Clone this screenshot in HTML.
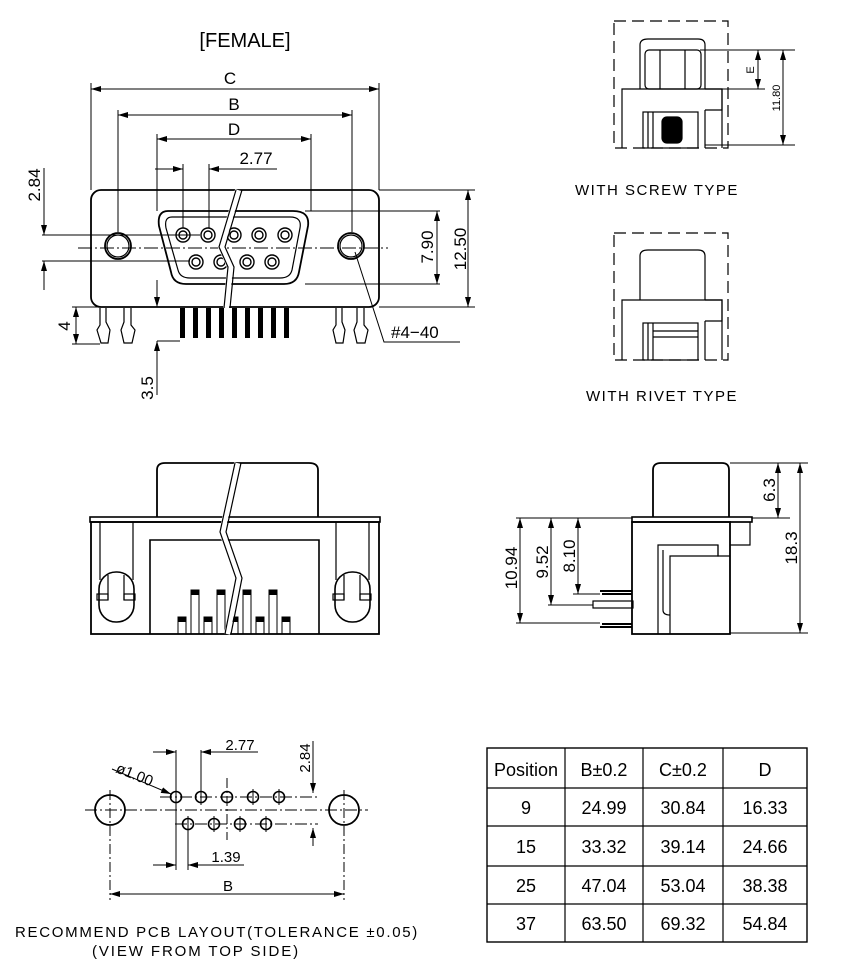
<!DOCTYPE html>
<html><head><meta charset="utf-8"><style>
html,body{margin:0;padding:0;background:#fff;}
svg{display:block;}
text{font-family:"Liberation Sans",sans-serif;fill:#000;}
</style></head><body>
<svg width="841" height="977" viewBox="0 0 841 977" xmlns="http://www.w3.org/2000/svg">
<defs>
<marker id="a" viewBox="0 0 10 6" refX="10" refY="3" markerWidth="10" markerHeight="6" orient="auto-start-reverse" markerUnits="userSpaceOnUse"><path d="M0,0 L10,3 L0,6z" fill="#000"/></marker>
</defs>
<g fill="none" stroke="#000" stroke-width="1.2">
<text x="245" y="47" font-size="20" text-anchor="middle" stroke="none" font-weight="300">[FEMALE]</text>
<rect x="91" y="190" width="288" height="117" rx="10" stroke-width="1.8"/>
<circle cx="118" cy="246" r="13" stroke-width="1.8"/><circle cx="118" cy="246" r="11"/>
<circle cx="351" cy="246" r="13" stroke-width="1.8"/><circle cx="351" cy="246" r="11"/>
<path d="M168,211 L293,211 Q310,211 308,226 L299,272 Q297,284 284,284 L186,284 Q173,284 171,272 L159,226 Q157,211 168,211z" stroke-width="1.8"/>
<path d="M172,217 L290,217 Q302,217 300,228 L292,270 Q290,278 280,278 L190,278 Q180,278 178,270 L166,228 Q164,217 172,217z"/>
<g stroke-width="1.4">
<circle cx="183" cy="235" r="7"/><circle cx="183" cy="235" r="4"/>
<circle cx="208" cy="235" r="7"/><circle cx="208" cy="235" r="4"/>
<circle cx="234" cy="235" r="7"/><circle cx="234" cy="235" r="4"/>
<circle cx="259" cy="235" r="7"/><circle cx="259" cy="235" r="4"/>
<circle cx="285" cy="235" r="7"/><circle cx="285" cy="235" r="4"/>
<circle cx="196" cy="262" r="7"/><circle cx="196" cy="262" r="4"/>
<circle cx="221" cy="262" r="7"/><circle cx="221" cy="262" r="4"/>
<circle cx="247" cy="262" r="7"/><circle cx="247" cy="262" r="4"/>
<circle cx="272" cy="262" r="7"/><circle cx="272" cy="262" r="4"/>
</g>
<path d="M78,248 H388" stroke-dasharray="14,3,2,3" stroke-width="0.9"/>
<path d="M238,190 L221,247 L230,267 L226,308" stroke="#fff" stroke-width="6"/>
<path d="M236,190 L219,247 L228,267 L224,308 M242,190 L225,247 L234,267 L230,308" stroke-width="1.2"/>
<g fill="#000" stroke="none">
<rect x="180" y="308" width="5" height="30"/><rect x="193" y="308" width="5" height="30"/><rect x="206" y="308" width="5" height="30"/><rect x="219" y="308" width="5" height="30"/><rect x="232" y="308" width="5" height="30"/><rect x="245" y="308" width="5" height="30"/><rect x="258" y="308" width="5" height="30"/><rect x="271" y="308" width="5" height="30"/><rect x="284" y="308" width="5" height="30"/>
</g>
<path d="M100,308 V325 L97,330 L101,343 H108 L110,330 L106,322 V308"/>
<path d="M124,308 V322 L121,330 L124,343 H132 L135,330 L131,325 V308"/>
<path d="M336,308 V325 L333,330 L336,343 H343 L345,330 L342,322 V308"/>
<path d="M357,308 V322 L354,330 L357,343 H365 L368,330 L364,325 V308"/>
<g stroke-width="1">
<path d="M91,190 V83 M379,190 V83 M118,232 V110 M352,232 V110 M157,211 V134 M311,211 V134 M183,228 V164 M209,228 V164"/>
<path d="M91,89 H379" marker-start="url(#a)" marker-end="url(#a)"/>
<path d="M118,115 H352" marker-start="url(#a)" marker-end="url(#a)"/>
<path d="M157,139 H311" marker-start="url(#a)" marker-end="url(#a)"/>
<path d="M155,169 H183" marker-end="url(#a)"/>
<path d="M277,169 H209" marker-end="url(#a)"/>
<path d="M42,235 H200 M42,261 H190"/>
<path d="M44,168 V235" marker-end="url(#a)"/>
<path d="M44,290 V261" marker-end="url(#a)"/>
<path d="M305,211 H440 M305,284 H440 M379,190 H475 M379,307 H475"/>
<path d="M437,211 V284" marker-start="url(#a)" marker-end="url(#a)"/>
<path d="M468,190 V307" marker-start="url(#a)" marker-end="url(#a)"/>
<path d="M72,307 H100 M72,344 H100"/>
<path d="M76,307 V344" marker-start="url(#a)" marker-end="url(#a)"/>
<path d="M157,280 V307" marker-end="url(#a)"/>
<path d="M157,341 H180"/>
<path d="M157,395 V341" marker-end="url(#a)"/>
<path d="M355,252 L384,342 H460"/>
</g>
<g stroke="none" font-size="17">
<text x="230" y="84" text-anchor="middle">C</text>
<text x="234" y="110" text-anchor="middle">B</text>
<text x="234" y="135" text-anchor="middle">D</text>
<text x="256" y="164" text-anchor="middle">2.77</text>
<text transform="translate(40,185) rotate(-90)" text-anchor="middle">2.84</text>
<text transform="translate(433,247) rotate(-90)" text-anchor="middle">7.90</text>
<text transform="translate(466,249) rotate(-90)" text-anchor="middle">12.50</text>
<text transform="translate(70,326) rotate(-90)" text-anchor="middle">4</text>
<text transform="translate(153,388) rotate(-90)" text-anchor="middle">3.5</text>
<text x="391" y="338">#4−40</text>
</g>

<rect x="614" y="21" width="114" height="127" stroke-dasharray="12,6"/>
<path d="M622,148 V89 H722 V148"/>
<path d="M640,89 V45 Q640,39 648,39 H698 Q705,39 705,45 V89"/>
<rect x="645" y="50" width="56" height="39" rx="4"/>
<path d="M660,50 V89 M685,50 V89"/>
<path d="M705,89 H722 V110 H705 M705,110 V148"/>
<rect x="643" y="112" width="55" height="36"/>
<path d="M648,112 V148 M653,112 V148"/>
<rect x="662" y="117" width="20" height="26" rx="5" fill="#000"/>
<g stroke-width="1"><path d="M700,50 H795 M650,89 H765 M705,145 H795"/>
<path d="M758,50 V89" marker-start="url(#a)" marker-end="url(#a)"/>
<path d="M783,50 V145" marker-start="url(#a)" marker-end="url(#a)"/></g>
<text transform="translate(754,70) rotate(-90)" font-size="11" text-anchor="middle" stroke="none">E</text>
<text transform="translate(780,98) rotate(-90)" font-size="11" text-anchor="middle" stroke="none">11.80</text>
<text x="575" y="195" font-size="15" stroke="none" letter-spacing="1.5">WITH  SCREW  TYPE</text>

<rect x="614" y="233" width="114" height="127" stroke-dasharray="12,6"/>
<path d="M622,360 V300 H722 V360"/>
<path d="M640,300 V256 Q640,250 648,250 H698 Q705,250 705,256 V300"/>
<path d="M705,300 H722 V321 H705 M705,321 V360"/>
<rect x="643" y="323" width="55" height="37"/>
<path d="M648,323 V360 M653,323 V360 M653,331 H698 M653,337 H698"/>
<text x="586" y="401" font-size="15" stroke="none" letter-spacing="1.5">WITH  RIVET  TYPE</text>

<path d="M157,517 V470 Q157,463 165,463 H309 Q318,463 318,470 V517" stroke-width="1.8"/>
<rect x="90" y="517" width="290" height="5" stroke-width="1.6"/>
<rect x="91" y="522" width="288" height="112" stroke-width="1.8"/>
<path d="M150,634 V540 H319 V634" stroke-width="1.6"/>
<path d="M100,522 V580 M133,522 V580 M336,522 V580 M369,522 V580"/>
<rect x="99" y="572" width="35" height="50" rx="17" stroke-width="1.6"/>
<rect x="335" y="572" width="35" height="50" rx="17" stroke-width="1.6"/>
<path d="M108,575 V600 M124,575 V600 M344,575 V600 M360,575 V600"/>
<rect x="97" y="594" width="11" height="6"/><rect x="124" y="594" width="11" height="6"/>
<rect x="333" y="594" width="11" height="6"/><rect x="360" y="594" width="11" height="6"/>
<g stroke-width="1">
<rect x="178" y="617" width="8" height="17"/><rect x="191" y="590" width="8" height="44"/><rect x="204" y="617" width="8" height="17"/><rect x="217" y="590" width="8" height="44"/><rect x="230" y="617" width="8" height="17"/><rect x="243" y="590" width="8" height="44"/><rect x="256" y="617" width="8" height="17"/><rect x="269" y="590" width="8" height="44"/><rect x="282" y="617" width="8" height="17"/>
</g>
<g fill="#000" stroke="none">
<rect x="178" y="617" width="8" height="5"/><rect x="191" y="590" width="8" height="5"/><rect x="204" y="617" width="8" height="5"/><rect x="217" y="590" width="8" height="5"/><rect x="230" y="617" width="8" height="5"/><rect x="243" y="590" width="8" height="5"/><rect x="256" y="617" width="8" height="5"/><rect x="269" y="590" width="8" height="5"/><rect x="282" y="617" width="8" height="5"/>
</g>
<path d="M237,463 L222,532 L238,578 L227,634" stroke="#fff" stroke-width="6"/>
<path d="M235,463 L220,532 L236,578 L225,634 M241,463 L226,532 L242,578 L231,634"/>

<path d="M653,517 V470 Q653,463 661,463 H722 Q729,463 729,470 V517" stroke-width="1.8"/>
<rect x="632" y="517" width="120" height="5" stroke-width="1.6"/>
<rect x="632" y="522" width="98" height="112" stroke-width="1.8"/>
<path d="M730,522 H750 V545 H730 M718,545 V556 H730"/>
<path d="M658,634 V545 H718 V556 H670 V634"/>
<path d="M663,550 V610 Q663,615 670,615"/>
<rect x="593" y="601" width="40" height="7"/>
<path d="M602,594 H632 M602,624 H632 M600,591 H632 M600,627 H632" stroke-width="2"/>
<g stroke-width="1">
<path d="M516,518 H632 M573,594 H600 M548,605 H593 M516,623 H600 M730,463 H808 M752,518 H790 M730,633 H808"/>
<path d="M520,518 V623" marker-start="url(#a)" marker-end="url(#a)"/>
<path d="M551,518 V605" marker-start="url(#a)" marker-end="url(#a)"/>
<path d="M578,518 V594" marker-start="url(#a)" marker-end="url(#a)"/>
<path d="M778,463 V518" marker-start="url(#a)" marker-end="url(#a)"/>
<path d="M800,463 V633" marker-start="url(#a)" marker-end="url(#a)"/>
</g>
<g stroke="none" font-size="17">
<text transform="translate(517,568) rotate(-90)" text-anchor="middle">10.94</text>
<text transform="translate(548,562) rotate(-90)" text-anchor="middle">9.52</text>
<text transform="translate(575,556) rotate(-90)" text-anchor="middle">8.10</text>
<text transform="translate(775,490) rotate(-90)" text-anchor="middle">6.3</text>
<text transform="translate(797,548) rotate(-90)" text-anchor="middle">18.3</text>
</g>

<g stroke-width="1">
<path d="M85,810 H368 M160,797 H318 M175,824 H318" stroke-dasharray="12,3,2,3"/>
<path d="M110,790 V900 M344,790 V900 M227,778 V840" stroke-dasharray="10,3,2,3"/>
</g>
<circle cx="110" cy="810" r="15" stroke-width="1.8"/><circle cx="344" cy="810" r="15" stroke-width="1.8"/>
<g stroke-width="1.6">
<circle cx="176" cy="797" r="5.5"/><circle cx="201" cy="797" r="5.5"/><circle cx="227" cy="797" r="5.5"/><circle cx="253" cy="797" r="5.5"/><circle cx="279" cy="797" r="5.5"/>
<circle cx="188" cy="824" r="5.5"/><circle cx="214" cy="824" r="5.5"/><circle cx="240" cy="824" r="5.5"/><circle cx="266" cy="824" r="5.5"/>
</g>
<g stroke-width="1">
<path d="M176,750 V870 M201,750 V805 M188,816 V870 M214,816 V832 M240,816 V832 M266,816 V832 M253,789 V805 M279,789 V805"/>
<path d="M153,752 H176" marker-end="url(#a)"/>
<path d="M258,752 H201" marker-end="url(#a)"/>
<path d="M153,865 H176" marker-end="url(#a)"/>
<path d="M244,865 H188" marker-end="url(#a)"/>
<path d="M110,894 H344" marker-start="url(#a)" marker-end="url(#a)"/>
<path d="M313,741 V793" marker-end="url(#a)"/>
<path d="M313,846 V828" marker-end="url(#a)"/>
<path d="M112,769 L171,794" marker-end="url(#a)"/>
</g>
<g stroke="none" font-size="15">
<text x="240" y="750" text-anchor="middle">2.77</text>
<text x="226" y="862" text-anchor="middle">1.39</text>
<text x="228" y="891" text-anchor="middle">B</text>
<text transform="translate(310,758) rotate(-90)" text-anchor="middle">2.84</text>
<text transform="translate(115,772) rotate(22)">ø1.00</text>
<text x="217" y="937" text-anchor="middle" letter-spacing="1.7">RECOMMEND  PCB  LAYOUT(TOLERANCE  ±0.05)</text>
<text x="196" y="956" text-anchor="middle" letter-spacing="1.9">(VIEW  FROM  TOP  SIDE)</text>
</g>

<rect x="487" y="748" width="320" height="194" stroke-width="1.4"/>
<path d="M565,748 V942 M643,748 V942 M723,748 V942 M487,788 H807 M487,826 H807 M487,866 H807 M487,904 H807" stroke-width="1.2"/>
<g stroke="none" font-size="18" text-anchor="middle">
<text x="526" y="776">Position</text><text x="604" y="776">B±0.2</text><text x="683" y="776">C±0.2</text><text x="765" y="776">D</text>
<text x="526" y="814">9</text><text x="604" y="814">24.99</text><text x="683" y="814">30.84</text><text x="765" y="814">16.33</text>
<text x="526" y="853">15</text><text x="604" y="853">33.32</text><text x="683" y="853">39.14</text><text x="765" y="853">24.66</text>
<text x="526" y="892">25</text><text x="604" y="892">47.04</text><text x="683" y="892">53.04</text><text x="765" y="892">38.38</text>
<text x="526" y="930">37</text><text x="604" y="930">63.50</text><text x="683" y="930">69.32</text><text x="765" y="930">54.84</text>
</g>
</g>
</svg>
</body></html>
